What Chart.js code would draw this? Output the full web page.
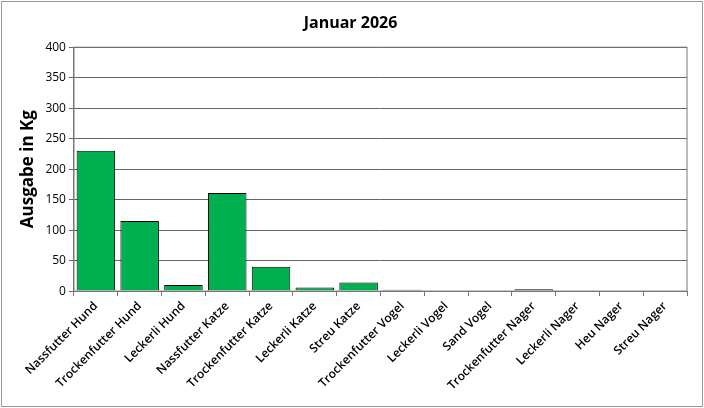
<!DOCTYPE html><html><head><script src="https://cdn.jsdelivr.net/npm/chart.js@4"></script>
<style>body{margin:0;background:#fff}#w{width:704px;height:408px;position:relative}</style></head><body><div id="w"><canvas id="c"></canvas></div>
<script>
const categories=["Nassfutter Hund","Trockenfutter Hund","Leckerli Hund","Nassfutter Katze","Trockenfutter Katze","Leckerli Katze","Streu Katze","Trockenfutter Vogel","Leckerli Vogel","Sand Vogel","Trockenfutter Nager","Leckerli Nager","Heu Nager","Streu Nager"];
const values=[230,115,10,161,40,6,14,2,1,0,3,0,1,0];
const frame={id:'frame',afterDraw(ch){const x=ch.ctx,a=ch.chartArea;x.save();x.strokeStyle='#777';x.lineWidth=1;x.strokeRect(a.left,a.top,a.right-a.left,a.bottom-a.top);x.strokeStyle='#999';x.strokeRect(1.5,1.5,ch.width-3,ch.height-3);x.restore();}};
new Chart(document.getElementById('c'),{type:'bar',data:{labels:categories,datasets:[{data:values,backgroundColor:'#00b050',borderColor:'#000',borderWidth:1,categoryPercentage:1,barPercentage:0.88}]},
options:{responsive:true,maintainAspectRatio:false,animation:false,devicePixelRatio:1,
layout:{padding:{left:14,right:17,top:8,bottom:12}},
plugins:{legend:{display:false},title:{display:true,text:'Januar 2026',font:{family:'Open Sans',size:16,weight:'bold'},color:'#000',padding:{top:6,bottom:14}}},
scales:{x:{grid:{display:true,drawOnChartArea:false,tickLength:5,color:'#777'},border:{color:'#777'},ticks:{color:'#000',font:{family:'Open Sans',size:12,weight:'600'},maxRotation:45,minRotation:45,autoSkip:false}},
y:{min:0,max:400,ticks:{stepSize:50,color:'#000',font:{family:'Open Sans',size:12}},grid:{color:'#666',tickLength:5},border:{color:'#777'},title:{display:true,text:'Ausgabe in Kg',color:'#000',font:{family:'Open Sans',size:17,weight:'bold'}}}}},plugins:[frame]});
</script></body></html>
